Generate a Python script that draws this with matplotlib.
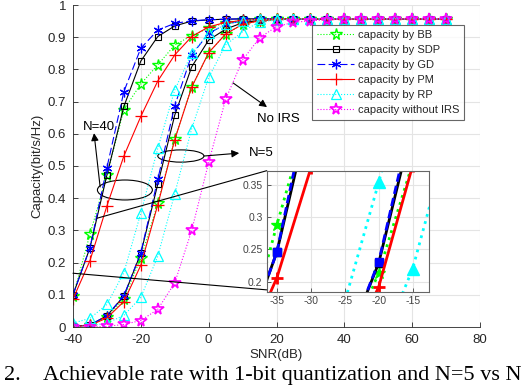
import matplotlib
matplotlib.use("Agg")
import matplotlib.pyplot as plt
from matplotlib.patches import Ellipse, ConnectionPatch
import numpy as np

plt.rcParams['font.family'] = ['Liberation Sans', 'DejaVu Sans']

# ---------------- data ----------------
snr = list(range(-40, 75, 5))  # -40 ... 70

bb_40 = [0.095, 0.288, 0.472, 0.675, 0.755, 0.814, 0.876, 0.905, 0.928, 0.945, 0.952, 0.956,
         0.957, 0.957, 0.957, 0.957, 0.957, 0.957, 0.957, 0.957, 0.957, 0.957, 0.957]
sdp_40 = [0.100, 0.246, 0.472, 0.685, 0.826, 0.902, 0.935, 0.950, 0.954, 0.956, 0.957, 0.957,
          0.957, 0.957, 0.957, 0.957, 0.957, 0.957, 0.957, 0.957, 0.957, 0.957, 0.957]
gd_40 = [0.100, 0.246, 0.495, 0.731, 0.866, 0.922, 0.943, 0.951, 0.954, 0.956, 0.957, 0.957,
         0.957, 0.957, 0.957, 0.957, 0.957, 0.957, 0.957, 0.957, 0.957, 0.957, 0.957]
pm_40 = [0.087, 0.206, 0.376, 0.531, 0.654, 0.764, 0.845, 0.902, 0.932, 0.946, 0.952, 0.955,
         0.957, 0.957, 0.957, 0.957, 0.957, 0.957, 0.957, 0.957, 0.957, 0.957, 0.957]
rp_40 = [0.012, 0.027, 0.070, 0.169, 0.354, 0.555, 0.736, 0.850, 0.912, 0.940, 0.951, 0.955,
         0.957, 0.957, 0.957, 0.957, 0.957, 0.957, 0.957, 0.957, 0.957, 0.957, 0.957]

bb_5 = [0.001, 0.005, 0.030, 0.088, 0.214, 0.384, 0.584, 0.745, 0.852, 0.910, 0.940, 0.951,
        0.955, 0.957, 0.957, 0.957, 0.957, 0.957, 0.957, 0.957, 0.957, 0.957, 0.957]
sdp_5 = [0.002, 0.006, 0.035, 0.096, 0.229, 0.444, 0.658, 0.808, 0.891, 0.925, 0.945, 0.952,
         0.956, 0.957, 0.957, 0.957, 0.957, 0.957, 0.957, 0.957, 0.957, 0.957, 0.957]
gd_5 = [0.002, 0.006, 0.035, 0.097, 0.231, 0.459, 0.687, 0.845, 0.912, 0.940, 0.951, 0.955,
        0.957, 0.957, 0.957, 0.957, 0.957, 0.957, 0.957, 0.957, 0.957, 0.957, 0.957]
pm_5 = [0.001, 0.005, 0.028, 0.079, 0.192, 0.380, 0.582, 0.745, 0.852, 0.910, 0.940, 0.951,
        0.955, 0.957, 0.957, 0.957, 0.957, 0.957, 0.957, 0.957, 0.957, 0.957, 0.957]
rp_5 = [0.001, 0.004, 0.012, 0.036, 0.092, 0.220, 0.414, 0.616, 0.775, 0.876, 0.917, 0.948,
        0.953, 0.956, 0.957, 0.957, 0.957, 0.957, 0.957, 0.957, 0.957, 0.957, 0.957]

no_irs = [0.000, 0.000, 0.002, 0.008, 0.020, 0.055, 0.137, 0.300, 0.511, 0.707, 0.829, 0.898,
          0.933, 0.946, 0.951, 0.954, 0.956, 0.957, 0.957, 0.957, 0.957, 0.957, 0.957]

labels = ['capacity by BB', 'capacity by SDP', 'capacity by GD',
          'capacity by PM', 'capacity by RP', 'capacity without IRS']
xticks = [-40, -20, 0, 20, 40, 60, 80]
yticks = [0, 0.1, 0.2, 0.3, 0.4, 0.5, 0.6, 0.7, 0.8, 0.9, 1]
inset_xticks = [-35, -30, -25, -20, -15]
inset_yticks = [0.2, 0.25, 0.3, 0.35]

# ---------------- styles ----------------
GREEN = '#00ff00'
CYAN = '#00ffff'
MAG = '#ff00ff'
AST = (6, 2, 0)

styles = {
    'bb': dict(color=GREEN, ls=':', marker='*', ms=8.5, mfc='none', mew=1.0),
    'sdp': dict(color='k', ls='-', marker='s', ms=5, mfc='none', mew=0.8),
    'gd': dict(color='#0000ff', ls=(0, (7, 3)), marker=AST, ms=7, mew=0.9),
    'pm': dict(color='#ff0000', ls='-', marker='+', ms=8, mew=0.9),
    'rp': dict(color=CYAN, ls=':', marker='^', ms=7, mfc='none', mew=0.9),
    'no': dict(color=MAG, ls=':', marker='*', ms=8.5, mfc='none', mew=1.2),
}

W, H = 522, 392
fig = plt.figure(figsize=(W / 100, H / 100), dpi=100)
ax = fig.add_axes([73 / W, 1 - 327 / H, 407 / W, 322 / H])

AXC = '#262626'
lw = 0.8
handles = []
for key, s40, s5, lab in [('bb', bb_40, bb_5, labels[0]), ('sdp', sdp_40, sdp_5, labels[1]),
                          ('gd', gd_40, gd_5, labels[2]), ('pm', pm_40, pm_5, labels[3]),
                          ('rp', rp_40, rp_5, labels[4])]:
    h, = ax.plot(snr, s40, lw=lw, label=lab, **styles[key])
    ax.plot(snr, s5, lw=lw, **styles[key])
    handles.append(h)
h, = ax.plot(snr, no_irs, lw=lw, label=labels[5], **styles['no'])
handles.append(h)

ax.set_xlim(-40, 80)
ax.set_ylim(0, 1)
ax.set_xticks(xticks)
ax.set_yticks(yticks)
ax.set_xticklabels([str(t) for t in xticks])
ax.set_yticklabels(['0', '0.1', '0.2', '0.3', '0.4', '0.5', '0.6', '0.7', '0.8', '0.9', '1'])
ax.grid(True, color='#e4e4e4', lw=0.8)
ax.set_axisbelow(True)
for sp in ['top', 'right']:
    ax.spines[sp].set_visible(False)
for sp in ['left', 'bottom']:
    ax.spines[sp].set_color(AXC)
    ax.spines[sp].set_linewidth(0.6)
ax.tick_params(direction='in', length=3.5, width=0.6, colors=AXC, labelsize=9.5, pad=5)
ax.set_xlabel('SNR(dB)', fontsize=9.5, color=AXC, labelpad=2)
ax.set_ylabel('Capacity(bit/s/Hz)', fontsize=9.5, color=AXC, labelpad=3)

leg = ax.legend(handles=handles, loc='upper left', bbox_to_anchor=(0.5865, 0.938),
                borderaxespad=0, fontsize=8, frameon=True, fancybox=False,
                handlelength=3.4, handletextpad=0.3, labelspacing=0.45,
                borderpad=0.45)
leg.get_frame().set_edgecolor('#404040')
leg.get_frame().set_linewidth(0.8)
for t in leg.get_texts():
    t.set_color(AXC)

# ---------------- annotations ----------------
ax.add_patch(Ellipse((-24.7, 0.4255), 16.2, 0.062, fill=False, ec='k', lw=0.8))
ax.add_patch(Ellipse((-8.2, 0.531), 13.6, 0.038, fill=False, ec='k', lw=0.8))
arrow = dict(arrowstyle='-|>', color='k', lw=0.8, mutation_scale=11, shrinkA=0, shrinkB=0)
ax.annotate('', xy=(-33.8, 0.602), xytext=(-32.0, 0.435), arrowprops=arrow)
ax.text(-37.1, 0.621, 'N=40', fontsize=9.5, ha='left', va='center', color='k')
ax.annotate('', xy=(9.0, 0.540), xytext=(-1.4, 0.531), arrowprops=arrow)
ax.text(11.8, 0.540, 'N=5', fontsize=9.5, ha='left', va='center', color='k')
ax.annotate('', xy=(17.2, 0.683), xytext=(7.2, 0.758), arrowprops=arrow)
ax.text(14.3, 0.646, 'No IRS', fontsize=9.5, ha='left', va='center', color='k')

# ---------------- inset ----------------
ins = fig.add_axes([266.7 / W, 1 - 292.3 / H, 162.6 / W, 121.6 / H])
ilw = 2.0
ins_styles = {
    'bb': dict(color=GREEN, ls=':', marker='*', ms=9),
    'sdp': dict(color='k', ls='-', marker='s', ms=6),
    'gd': dict(color='#0000ff', ls=(0, (3, 1.5)), marker='s', ms=6),
    'pm': dict(color='#ff0000', ls='-', marker='+', ms=8, mew=2),
    'rp': dict(color=CYAN, ls=':', marker='^', ms=8),
}
for key, s40, s5 in [('bb', bb_40, bb_5), ('sdp', sdp_40, sdp_5), ('gd', gd_40, gd_5),
                     ('pm', pm_40, pm_5), ('rp', rp_40, rp_5)]:
    ins.plot(snr, s40, lw=ilw, **ins_styles[key])
    ins.plot(snr, s5, lw=ilw, **ins_styles[key])
ins.plot(snr, no_irs, lw=ilw, color=MAG, ls=':', marker='*', ms=9)
ins.set_xlim(-36.5, -12.55)
ins.set_ylim(0.1835, 0.372)
ins.set_xticks(inset_xticks)
ins.set_yticks(inset_yticks)
ins.set_xticklabels([str(t) for t in inset_xticks])
ins.set_yticklabels(['0.2', '0.25', '0.3', '0.35'])
ins.grid(True, color='#e4e4e4', lw=0.8)
ins.set_axisbelow(True)
for sp in ins.spines.values():
    sp.set_color('#666666')
    sp.set_linewidth(0.8)
ins.tick_params(direction='in', length=3, width=0.6, colors='#444444', labelsize=7.5, pad=3)

# connector lines
for (xd, yd), (xa, ya) in [((-33.0, 0.3376), (0, 1)), ((-40, 0.167), (0, 0.02))]:
    cp = ConnectionPatch(xyA=(xd, yd), coordsA=ax.transData, xyB=(xa, ya), coordsB=ins.transAxes,
                         color='k', lw=0.8)
    fig.add_artist(cp)

# ---------------- caption ----------------
fig.text(21 / W, (392 - 380) / H, 'Fig. 2.', fontsize=16, family='Liberation Serif',
         ha='right', va='baseline')
fig.text(43 / W, (392 - 380) / H, 'Achievable rate with 1-bit quantization and N=5 vs N=40',
         fontsize=16, family='Liberation Serif', ha='left', va='baseline')

fig.savefig('out.png', dpi=100)
